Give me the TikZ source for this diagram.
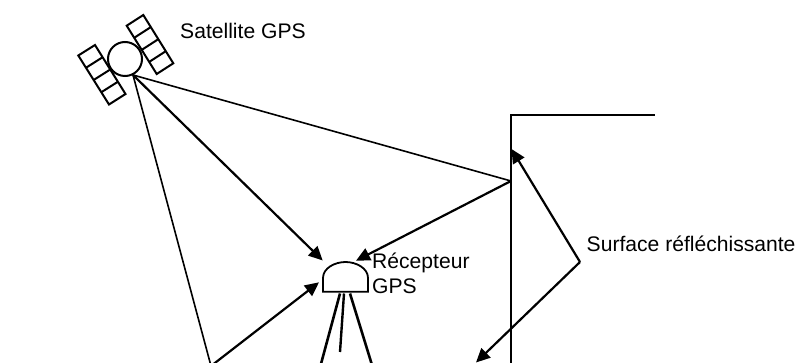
\documentclass[tikz,border=0pt]{standalone}
\usepackage{fontspec}
\setmainfont{Liberation Sans}
\usetikzlibrary{arrows.meta}
\tikzset{
  ray/.style={line width=1.6pt,line join=miter},
  rayb/.style={line width=2.2pt},
  tip/.style={-{Triangle[length=14pt,width=13pt]}},
  sat/.style={line width=2pt},
  lab/.style={font=\fontsize{21.1}{25}\selectfont,inner sep=0pt,align=left,anchor=base west}
}
\begin{document}
\begin{tikzpicture}[x=1pt,y=-1pt]
\useasboundingbox (0,0) rectangle (798,363);
\clip (0,0) rectangle (798,363);
\coordinate (S) at (133,75);
\coordinate (R) at (511,181);
\coordinate (G) at (211,366);
\coordinate (P) at (580,262);
\coordinate (W1) at (511,370);
\coordinate (W2) at (511,115);
\coordinate (W3) at (655,115);
\coordinate (T1) at (322.7,260.5);
\coordinate (T2) at (356,260.7);
\coordinate (T3) at (319,282.3);
\coordinate (T4) at (511.5,149);
\coordinate (T5) at (476,362.5);
% satellite
\node[circle,draw,sat,minimum size=34pt,inner sep=0pt] (body) at (125,59) {};
\draw[sat] (78.3,55.5) -- (95,45) -- (125.5,94) -- (109,104.5) -- cycle;
\draw[sat] (86,67.75) -- (102.6,57.25) (93.65,80) -- (110.25,69.5) (101.3,92.25) -- (117.9,81.75);
\draw[sat] (126.7,25.7) -- (143.3,15) -- (173.3,63.3) -- (156.7,74) -- cycle;
\draw[sat] (134.2,37.8) -- (150.8,27.1) (141.7,49.9) -- (158.3,39.2) (149.2,61.9) -- (165.8,51.2);
% wall
\draw[line width=1.8pt] (W1) -- (W2) -- (W3);
% rays
\draw[ray] (S) -- (R);
\draw[ray] (S) -- (G);
\draw[ray,rayb,tip] (S) -- (T1);
\draw[ray,rayb,tip] (R) -- (T2);
\draw[ray,rayb,tip] (G) -- (T3);
\draw[ray,rayb,tip] (P) -- (T4);
\draw[ray,rayb,tip] (P) -- (T5);
% receiver
\draw[line width=1.8pt] (323,291.7) -- (323,278) .. controls (323,268) and (335,262) .. (345.5,262) .. controls (356,262) and (368,268) .. (368,278) -- (368,291.7) -- cycle;
\coordinate (L1) at (340,293.5);
\coordinate (L2) at (344,293.5);
\coordinate (L3) at (350,293.5);
\draw[line width=2.6pt] (L1) -- (320.7,365);
\draw[line width=2.4pt] (L2) -- (340,352);
\draw[line width=2.6pt] (L3) -- (372,365);
% labels
\node[lab] (satl) at (180,38.3) {Satellite GPS};
\node[lab] (rec) at (372,293.3) {Récepteur\\GPS};
\node[lab] (surf) at (586.5,251.7) {Surface réfléchissante};
\end{tikzpicture}
\end{document}
